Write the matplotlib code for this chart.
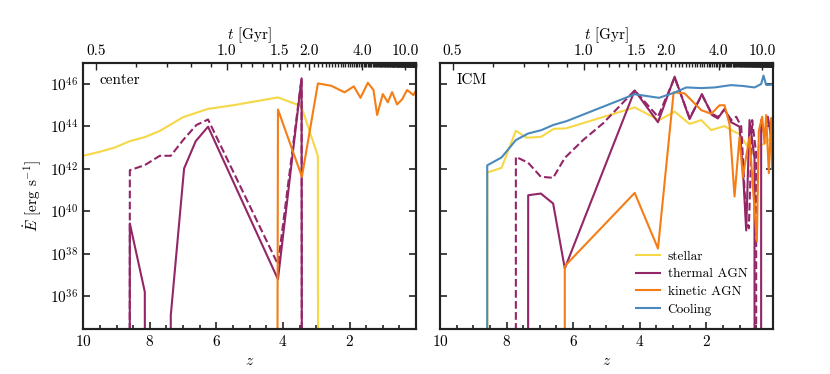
import numpy as np
import matplotlib
matplotlib.use("Agg")
import matplotlib.pyplot as plt

plt.rcParams['font.family'] = 'cmr10'
plt.rcParams['mathtext.fontset'] = 'cm'
plt.rcParams['axes.formatter.use_mathtext'] = True

# cosmology used for the t [Gyr] axis (flat LCDM)
H0 = 67.74 / 977.8   # 1/Gyr
OM = 0.3089
OL = 1.0 - OM

# ---- data: redshift snapshots and log10(E_dot) ; None = zero ----
# center
c_stellar_z = [10.0, 9.5, 9.05, 8.6, 8.15, 7.7, 7.0, 6.25, 5.5, 4.15, 3.45, 2.95, 2.55]
c_stellar_e = [42.62, 42.81, 43.01, 43.31, 43.5, 43.79, 44.44, 44.83, 45.0, 45.37, 44.96, 42.6, None]

c_thermal_z = [9.05, 8.6, 8.15, 7.7, 7.37, 6.97, 6.62, 6.25, 4.15, 3.44, 2.95]
c_thermal_e = [None, 39.43, 36.2, None, 35.1, 42.02, 43.31, 43.99, 36.8, 46.27, None]

c_thermal2_z = [9.05, 8.6, 8.15, 7.7, 7.37, 7.0, 6.6, 6.25, 4.15, 3.44, 2.95]
c_thermal2_e = [None, 41.94, 42.18, 42.62, 42.62, 43.36, 44.07, 44.33, 37.5, 46.27, None]

c_kinetic_z = [5.5, 4.15, 3.43, 2.95, 2.55, 2.15, 1.87, 1.67, 1.45, 1.28, 1.17, 1.0,
               0.85, 0.72, 0.57, 0.42, 0.27, 0.18, 0.08, 0.02]
c_kinetic_e = [None, 44.8, 41.63, 46.03, 45.92, 45.61, 45.89, 45.35, 46.06, 45.72, 44.54, 45.53,
               45.14, 45.62, 45.04, 45.28, 45.72, 45.61, 45.48, 45.64]

# ICM
i_cooling_z = [8.62, 8.58, 8.15, 7.72, 7.35, 6.95, 6.6, 6.2, 4.15, 3.42, 2.95, 2.6, 2.15, 1.75,
               1.25, 0.9, 0.55, 0.35, 0.28, 0.2, 0.1, 0.02]
i_cooling_e = [None, 42.17, 42.54, 43.36, 43.67, 43.83, 44.07, 44.25, 45.52, 45.35, 45.6, 45.84,
               45.81, 45.84, 45.95, 45.91, 45.84, 46.0, 46.4, 45.96, 45.96, 45.98]

i_stellar_z = [8.62, 8.58, 8.15, 7.72, 7.4, 6.97, 6.58, 6.22, 4.15, 3.42, 2.95, 2.5, 2.15, 1.85,
               1.45, 1.25, 1.0, 0.75, 0.5, 0.4, 0.25, 0.15, 0.02]
i_stellar_e = [None, 41.83, 42.05, 43.8, 43.47, 43.51, 43.89, 43.91, 44.9, 44.3, 44.7, 44.12,
               44.3, 43.83, 44.02, 43.83, 43.64, 43.04, 42.57, 43.1, 43.18, 43.36, 43.44]

i_thermal_z = [7.72, 7.35, 6.97, 6.6, 6.25, 4.15, 3.45, 2.95, 2.5, 2.13, 1.83, 1.65, 1.45, 1.25,
               1.0, 0.9, 0.8, 0.7, 0.55, 0.45, 0.35, 0.25, 0.15, 0.1, 0.02]
i_thermal_e = [None, 40.76, 40.84, 40.37, 37.31, 45.7, 44.2, 46.35, 44.35, 45.53, 44.54, 44.38,
               44.83, 44.2, 43.99, 42.0, 39.1, 44.3, 42.5, None, 44.3, 43.6, 44.46, 43.99,
               43.0]

i_thermal2_z = [7.75, 7.72, 7.35, 6.97, 6.6, 6.25, 5.7, 5.1, 4.15, 3.45, 2.95, 2.5, 2.13, 1.83,
                1.65, 1.45, 1.25, 1.1, 0.95, 0.8, 0.72, 0.62, 0.5, 0.45]
i_thermal2_e = [None, 42.57, 42.29, 41.63, 41.58, 42.52, 43.36, 44.15, 45.7, 44.46, 46.3, 44.4,
                45.48, 44.6, 44.45, 44.8, 44.3, 44.46, 44.0, 39.6, 39.2, 44.3, 42.7, None]

i_kinetic_z = [6.3, 6.25, 4.15, 3.45, 2.98, 2.65, 2.15, 1.85, 1.6, 1.45, 1.3, 1.15, 1.0, 0.9,
               0.8, 0.7, 0.6, 0.48, 0.42, 0.32, 0.25, 0.2, 0.12, 0.05, 0.02]
i_kinetic_e = [None, 37.42, 40.87, 38.25, 45.61, 45.56, 44.77, 44.6, 45.0, 45.0, 44.1, 40.7,
               43.5, 41.6, 42.6, 43.5, 41.2, 38.6, 43.8, 44.46, 43.2, 44.54, 41.8, 44.4, 42.0]

t_major = [0.5, 1.0, 1.5, 2.0, 4.0, 10.0]
y_ticks = [36, 38, 40, 42, 44, 46]

C_STELLAR = '#f6d746'
C_THERMAL = '#932667'
C_KINETIC = '#f57d15'
C_COOLING = '#4a89bd'


def to_lin(logvals):
    return np.array([0.0 if v is None else 10.0 ** v for v in logvals])


def z_of_t(t):
    t = np.asarray(t, dtype=float)
    a = (np.sqrt(OM / OL) * np.sinh(1.5 * H0 * np.sqrt(OL) * t)) ** (2.0 / 3.0)
    return 1.0 / a - 1.0


def style_axes(ax, ylabels=True):
    ax.set_yscale('log', nonpositive='clip')
    ax.set_xlim(10, 0)
    ax.set_ylim(10.0 ** 34.45, 10.0 ** 47)
    ax.set_xticks([10, 8, 6, 4, 2])
    ax.set_xticks(np.arange(0.5, 10, 0.5), minor=True)
    ax.set_yticks([10.0 ** v for v in y_ticks])
    ax.set_yticks([], minor=True)
    if not ylabels:
        ax.set_yticklabels([])
    ax.tick_params(which='both', direction='in', right=True, top=False, labelsize=11,
                   width=1.2, color='#222222')
    ax.tick_params(which='major', length=5)
    ax.tick_params(which='minor', length=3)
    for s in ax.spines.values():
        s.set_linewidth(1.5)
        s.set_color('#222222')
    ax.set_xlabel('$z$', fontsize=11)

    # top axis: cosmic time
    ax2 = ax.twiny()
    ax2.set_xlim(ax.get_xlim())
    ax2.set_xticks(z_of_t(t_major))
    ax2.set_xticklabels(['%.1f' % t for t in t_major])
    tminor = np.arange(0.5, 13.75, 0.1)
    ax2.set_xticks(z_of_t(tminor), minor=True)
    ax2.tick_params(which='both', direction='in', labelsize=11, width=1.0, color='#222222')
    ax2.tick_params(which='major', length=5)
    ax2.tick_params(which='minor', length=3)
    for s in ax2.spines.values():
        s.set_linewidth(1.5)
        s.set_color('#222222')
    ax2.set_xlabel('$t$ [Gyr]', fontsize=11)
    return ax2


fig = plt.figure(figsize=(8.3, 3.74), dpi=100)
ax_c = fig.add_axes([0.1003, 0.120, 0.401, 0.712])
ax_i = fig.add_axes([0.5301, 0.120, 0.401, 0.712])

lw = 1.5
ax_c.plot(c_stellar_z, to_lin(c_stellar_e), color=C_STELLAR, lw=lw)
ax_c.plot(c_thermal2_z, to_lin(c_thermal2_e), color=C_THERMAL, lw=lw, ls='--')
ax_c.plot(c_thermal_z, to_lin(c_thermal_e), color=C_THERMAL, lw=lw)
ax_c.plot(c_kinetic_z, to_lin(c_kinetic_e), color=C_KINETIC, lw=lw)

ax_i.plot(i_stellar_z, to_lin(i_stellar_e), color=C_STELLAR, lw=lw, label='stellar')
ax_i.plot(i_thermal2_z, to_lin(i_thermal2_e), color=C_THERMAL, lw=lw, ls='--')
ax_i.plot(i_thermal_z, to_lin(i_thermal_e), color=C_THERMAL, lw=lw, label='thermal AGN')
ax_i.plot(i_kinetic_z, to_lin(i_kinetic_e), color=C_KINETIC, lw=lw, label='kinetic AGN')
ax_i.plot(i_cooling_z, to_lin(i_cooling_e), color=C_COOLING, lw=lw, label='Cooling')

style_axes(ax_c, ylabels=True)
style_axes(ax_i, ylabels=False)
ax_c.set_ylabel(r'$\dot{E}$ [erg s$^{-1}$]', fontsize=11)

ax_c.text(0.05, 0.96, 'center', transform=ax_c.transAxes, va='top', ha='left', fontsize=11)
ax_i.text(0.05, 0.96, 'ICM', transform=ax_i.transAxes, va='top', ha='left', fontsize=11)

ax_i.legend(loc='lower left', bbox_to_anchor=(0.59, 0.05), frameon=False, fontsize=9.6,
            handlelength=1.75, handletextpad=0.6, labelspacing=0.4,
            borderpad=0, borderaxespad=0)

fig.savefig('out.png', dpi=100)
